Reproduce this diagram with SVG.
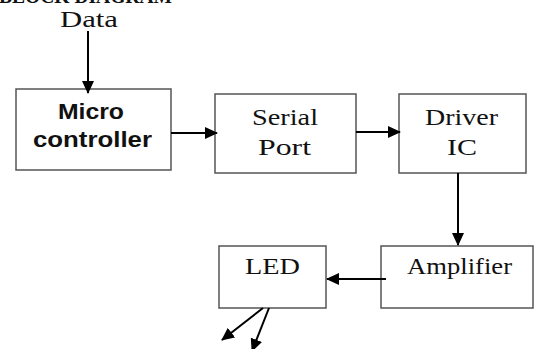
<svg xmlns="http://www.w3.org/2000/svg" width="534" height="349" viewBox="0 0 534 349">
<defs>
<marker id="ah" markerWidth="13" markerHeight="12" refX="12" refY="6" orient="auto" markerUnits="userSpaceOnUse"><path d="M0,0 L13,6 L0,12 Z" fill="#000"/></marker>
<style>
.box{fill:#fff;stroke:#555;stroke-width:1.5}
.t{font-family:"Liberation Serif","Times New Roman",serif;font-size:23px;fill:#111}
.b{font-family:"Liberation Sans",Arial,sans-serif;font-weight:bold;font-size:22px;fill:#111}
.c{stroke:#000;stroke-width:2;fill:none;marker-end:url(#ah)}
</style>
</defs>
<rect width="534" height="349" fill="#fff"/>
<text x="-1" y="3" font-family="Liberation Serif,serif" font-weight="bold" font-size="20" textLength="173" lengthAdjust="spacingAndGlyphs" fill="#111">BLOCK DIAGRAM</text>
<text class="t" x="60" y="27" font-size="22" textLength="58" lengthAdjust="spacingAndGlyphs">Data</text>
<g id="micro"><rect class="box" x="16" y="89" width="155" height="81"/><text class="b" x="58" y="119" textLength="66" lengthAdjust="spacingAndGlyphs">Micro</text><text class="b" x="33" y="147" textLength="119" lengthAdjust="spacingAndGlyphs">controller</text></g>
<g id="serial"><rect class="box" x="215" y="94" width="141" height="79"/><text class="t" x="252" y="125" textLength="66" lengthAdjust="spacingAndGlyphs">Serial</text><text class="t" x="258" y="155" textLength="53" lengthAdjust="spacingAndGlyphs">Port</text></g>
<g id="driver"><rect class="box" x="399" y="94" width="127" height="79"/><text class="t" x="425" y="125" textLength="73" lengthAdjust="spacingAndGlyphs">Driver</text><text class="t" x="447" y="155" textLength="30" lengthAdjust="spacingAndGlyphs">IC</text></g>
<g id="amplifier"><rect class="box" x="381" y="246" width="152" height="62"/><text class="t" x="407" y="274" textLength="105" lengthAdjust="spacingAndGlyphs">Amplifier</text></g>
<g id="led"><rect class="box" x="219" y="246" width="107" height="62"/><text class="t" x="245" y="274" textLength="55" lengthAdjust="spacingAndGlyphs">LED</text></g>
<g id="connectors">
<line class="c" x1="88" y1="31" x2="88" y2="93"/>
<line class="c" x1="171" y1="133" x2="217" y2="133"/>
<line class="c" x1="356" y1="132" x2="400" y2="132"/>
<line class="c" x1="458" y1="173" x2="458" y2="245"/>
<line class="c" x1="386" y1="279" x2="327" y2="279"/>
<line class="c" x1="263" y1="308" x2="222" y2="340"/>
<line class="c" x1="269" y1="308" x2="252" y2="351"/>
</g>
</svg>
